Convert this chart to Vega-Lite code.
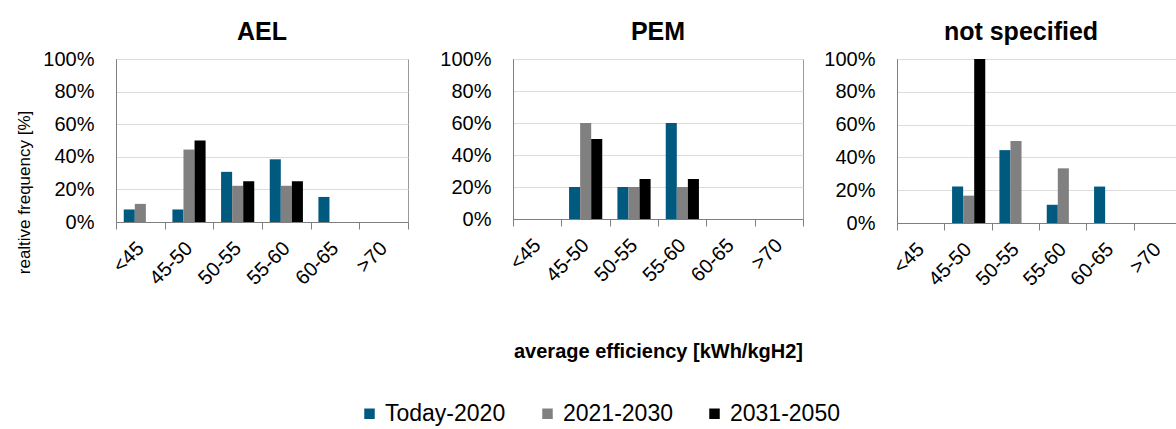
{
  "$schema": "https://vega.github.io/schema/vega-lite/v6.json",
  "background": "white",
  "padding": {"left": 15, "top": 19, "right": 0, "bottom": 0},
  "data": {
    "values": [
      {"panel": "AEL", "range": "<45", "period": "Today-2020", "value": 0.0769},
      {"panel": "AEL", "range": "<45", "period": "2021-2030", "value": 0.1111},
      {"panel": "AEL", "range": "45-50", "period": "Today-2020", "value": 0.0769},
      {"panel": "AEL", "range": "45-50", "period": "2021-2030", "value": 0.4444},
      {"panel": "AEL", "range": "45-50", "period": "2031-2050", "value": 0.5},
      {"panel": "AEL", "range": "50-55", "period": "Today-2020", "value": 0.3077},
      {"panel": "AEL", "range": "50-55", "period": "2021-2030", "value": 0.2222},
      {"panel": "AEL", "range": "50-55", "period": "2031-2050", "value": 0.25},
      {"panel": "AEL", "range": "55-60", "period": "Today-2020", "value": 0.3846},
      {"panel": "AEL", "range": "55-60", "period": "2021-2030", "value": 0.2222},
      {"panel": "AEL", "range": "55-60", "period": "2031-2050", "value": 0.25},
      {"panel": "AEL", "range": "60-65", "period": "Today-2020", "value": 0.1538},
      {"panel": "PEM", "range": "45-50", "period": "Today-2020", "value": 0.2},
      {"panel": "PEM", "range": "45-50", "period": "2021-2030", "value": 0.6},
      {"panel": "PEM", "range": "45-50", "period": "2031-2050", "value": 0.5},
      {"panel": "PEM", "range": "50-55", "period": "Today-2020", "value": 0.2},
      {"panel": "PEM", "range": "50-55", "period": "2021-2030", "value": 0.2},
      {"panel": "PEM", "range": "50-55", "period": "2031-2050", "value": 0.25},
      {"panel": "PEM", "range": "55-60", "period": "Today-2020", "value": 0.6},
      {"panel": "PEM", "range": "55-60", "period": "2021-2030", "value": 0.2},
      {"panel": "PEM", "range": "55-60", "period": "2031-2050", "value": 0.25},
      {"panel": "not specified", "range": "45-50", "period": "Today-2020", "value": 0.2222},
      {"panel": "not specified", "range": "45-50", "period": "2021-2030", "value": 0.1667},
      {"panel": "not specified", "range": "45-50", "period": "2031-2050", "value": 1.0},
      {"panel": "not specified", "range": "50-55", "period": "Today-2020", "value": 0.4444},
      {"panel": "not specified", "range": "50-55", "period": "2021-2030", "value": 0.5},
      {"panel": "not specified", "range": "55-60", "period": "Today-2020", "value": 0.1111},
      {"panel": "not specified", "range": "55-60", "period": "2021-2030", "value": 0.3333},
      {"panel": "not specified", "range": "60-65", "period": "Today-2020", "value": 0.2222}
    ]
  },
  "spacing": 30,
  "hconcat": [
    {
      "width": 292,
      "height": 163,
      "title": {"text": "AEL"},
      "transform": [{"filter": "datum.panel === 'AEL'"}],
      "mark": {"type": "bar"},
      "encoding": {
        "x": {"field": "range", "type": "nominal", "sort": ["<45", "45-50", "50-55", "55-60", "60-65", ">70"], "scale": {"domain": ["<45", "45-50", "50-55", "55-60", "60-65", ">70"], "paddingInner": 0, "paddingOuter": 0}, "axis": {"title": null}},
        "xOffset": {"field": "period", "type": "nominal", "sort": ["Today-2020", "2021-2030", "2031-2050"], "scale": {"domain": ["Today-2020", "2021-2030", "2031-2050"], "paddingInner": 0, "paddingOuter": 0.7}},
        "y": {"field": "value", "type": "quantitative", "scale": {"domain": [0, 1]}, "axis": {"title": "realtive frequency  [%]", "titleY": 133}},
        "color": {"field": "period", "type": "nominal", "sort": ["Today-2020", "2021-2030", "2031-2050"], "scale": {"domain": ["Today-2020", "2021-2030", "2031-2050"], "range": ["#00597F", "#808080", "#000000"]}, "legend": {"title": null}}
      }
    },
    {
      "spacing": 19,
      "hconcat": [
        {
          "width": 290,
          "height": 160,
          "title": {"text": "PEM"},
          "transform": [{"filter": "datum.panel === 'PEM'"}],
          "mark": {"type": "bar"},
          "encoding": {
            "x": {"field": "range", "type": "nominal", "sort": ["<45", "45-50", "50-55", "55-60", "60-65", ">70"], "scale": {"domain": ["<45", "45-50", "50-55", "55-60", "60-65", ">70"], "paddingInner": 0, "paddingOuter": 0}, "axis": {"title": "average efficiency [kWh/kgH2]"}},
            "xOffset": {"field": "period", "type": "nominal", "sort": ["Today-2020", "2021-2030", "2031-2050"], "scale": {"domain": ["Today-2020", "2021-2030", "2031-2050"], "paddingInner": 0, "paddingOuter": 0.7}},
            "y": {"field": "value", "type": "quantitative", "scale": {"domain": [0, 1]}, "axis": {"title": null}},
            "color": {"field": "period", "type": "nominal", "sort": ["Today-2020", "2021-2030", "2031-2050"], "scale": {"domain": ["Today-2020", "2021-2030", "2031-2050"], "range": ["#00597F", "#808080", "#000000"]}, "legend": {"title": null}}
          }
        },
        {
          "width": 284,
          "height": 164,
          "title": {"text": "not specified", "dx": -18},
          "transform": [{"filter": "datum.panel === 'not specified'"}],
          "mark": {"type": "bar"},
          "encoding": {
            "x": {"field": "range", "type": "nominal", "sort": ["<45", "45-50", "50-55", "55-60", "60-65", ">70"], "scale": {"domain": ["<45", "45-50", "50-55", "55-60", "60-65", ">70"], "paddingInner": 0, "paddingOuter": 0}, "axis": {"title": null}},
            "xOffset": {"field": "period", "type": "nominal", "sort": ["Today-2020", "2021-2030", "2031-2050"], "scale": {"domain": ["Today-2020", "2021-2030", "2031-2050"], "paddingInner": 0, "paddingOuter": 0.7}},
            "y": {"field": "value", "type": "quantitative", "scale": {"domain": [0, 1]}, "axis": {"title": null}},
            "color": {"field": "period", "type": "nominal", "sort": ["Today-2020", "2021-2030", "2031-2050"], "scale": {"domain": ["Today-2020", "2021-2030", "2031-2050"], "range": ["#00597F", "#808080", "#000000"]}, "legend": {"title": null}}
          }
        }
      ]
    }
  ],
  "config": {
    "font": "Liberation Sans",
    "view": {"stroke": "#9A9A9A", "strokeWidth": 1},
    "title": {"fontSize": 25, "fontWeight": "bold", "font": "Liberation Sans", "color": "#000000", "offset": 4, "anchor": "middle"},
    "axisX": {
      "labelAngle": -45, "labelAlign": "right", "labelBaseline": "middle", "labelPadding": 16,
      "labelFont": "Liberation Sans", "labelFontSize": 20, "labelColor": "#000000",
      "tickBand": "extent", "ticks": true, "tickSize": 7, "tickColor": "#7F7F7F", "domainColor": "#7F7F7F",
      "grid": false, "titleFont": "Liberation Sans", "titleFontSize": 20, "titleFontWeight": "bold", "titleColor": "#000000", "titlePadding": 56
    },
    "axisY": {
      "values": [0, 0.2, 0.4, 0.6, 0.8, 1], "format": ".0%", "ticks": false, "labelPadding": 22,
      "labelFont": "Liberation Sans", "labelFontSize": 20, "labelColor": "#000000",
      "domainColor": "#7F7F7F", "grid": true, "gridColor": "#DCDCDC",
      "titleFont": "Liberation Sans", "titleFontSize": 17, "titleFontWeight": "normal", "titleColor": "#000000", "titlePadding": 9
    },
    "legend": {
      "orient": "bottom", "direction": "horizontal", "offset": 40,
      "layout": {"bottom": {"anchor": "middle"}},
      "symbolType": "square", "symbolSize": 110,
      "symbolStrokeWidth": 0, "labelFont": "Liberation Sans", "labelFontSize": 23, "labelColor": "#000000",
      "columnPadding": 30, "labelOffset": 4
    }
  }
}
